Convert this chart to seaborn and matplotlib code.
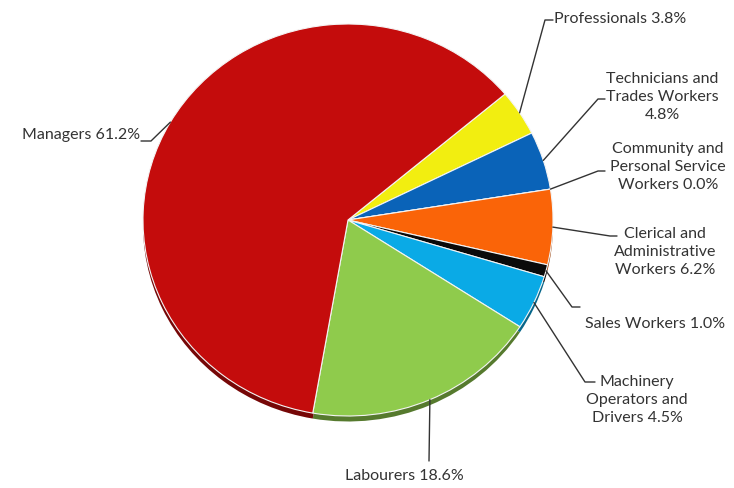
import matplotlib
matplotlib.use("Agg")
import matplotlib.pyplot as plt
import matplotlib.colors as mcolors
import numpy as np
import seaborn as sns

# Occupation shares (%), listed clockwise from the top-right
categories = [
    "Professionals",
    "Technicians and Trades Workers",
    "Community and Personal Service Workers",
    "Clerical and Administrative Workers",
    "Sales Workers",
    "Machinery Operators and Drivers",
    "Labourers",
    "Managers",
]
shares = [3.8, 4.8, 0.0, 6.2, 1.0, 4.5, 18.6, 61.2]

# How each label is broken over lines
label_formats = [
    "Professionals {:.1f}%",
    "Technicians and\nTrades Workers\n{:.1f}%",
    "Community and\nPersonal Service\nWorkers {:.1f}%",
    "Clerical and\nAdministrative\nWorkers {:.1f}%",
    "Sales Workers {:.1f}%",
    "Machinery\nOperators and\nDrivers {:.1f}%",
    "Labourers {:.1f}%",
    "Managers {:.1f}%",
]

colors = ["#F2EE10", "#0A63B8", "#7F7F7F", "#FA6408", "#0A0A0A",
          "#0AAAE6", "#8FCB4C", "#C40C0C"]

# Label placement (pixels from top-left): text anchor, alignment, elbow, tail end
label_layout = [
    dict(xy=(554, 19), ha="left", elbow=(545, 21), tail=(553, 21)),
    dict(xy=(662, 97), ha="center", elbow=(598, 100), tail=(605, 100)),
    dict(xy=(668, 167), ha="center", elbow=(598, 172), tail=(605, 172)),
    dict(xy=(665, 252), ha="center", elbow=(610, 237), tail=(617, 237)),
    dict(xy=(655, 324), ha="center", elbow=(572, 308), tail=(580, 308)),
    dict(xy=(637, 400), ha="center", elbow=(585, 383), tail=(595, 383)),
    dict(xy=(404, 476), ha="center", elbow=(429, 462), tail=(429, 462)),
    dict(xy=(140, 135), ha="right", elbow=(151, 142), tail=(141, 142)),
]

sns.set_theme(style="white")
plt.rcParams["font.family"] = ["Lato", "DejaVu Sans"]

W, H = 734, 489
fig = plt.figure(figsize=(W / 100, H / 100), dpi=100)
ax = fig.add_axes([0, 0, 1, 1])

start = 40
# darker rim giving the pie some depth
rim = [mcolors.to_hex(np.array(mcolors.to_rgb(c)) * 0.6) for c in colors]
ax.pie(shares, colors=rim, startangle=start, counterclock=False,
       center=(0, -0.028), wedgeprops=dict(linewidth=0))
wedges, _ = ax.pie(shares, colors=colors, startangle=start, counterclock=False,
                   wedgeprops=dict(edgecolor="#f4f4f4", linewidth=0.8))

ax.set_aspect("auto")
cx, cy, rx, ry = 348, 221, 205, 196
ax.set_xlim(-cx / rx, (W - cx) / rx)
ax.set_ylim(-(H - cy) / ry, cy / ry)
ax.axis("off")

# overlay in pixel coordinates for the labels and leader lines
ov = fig.add_axes([0, 0, 1, 1], zorder=3)
ov.set_xlim(0, W)
ov.set_ylim(H, 0)
ov.axis("off")
ov.patch.set_alpha(0)

to_ov = ov.transData.inverted()
text_color = "#333333"
for w, fmt, val, lay in zip(wedges, label_formats, shares, label_layout):
    mid = np.deg2rad((w.theta1 + w.theta2) / 2)
    edge = to_ov.transform(ax.transData.transform((np.cos(mid), np.sin(mid))))
    ex, ey = lay["elbow"]
    tx, ty = lay["tail"]
    ov.plot([edge[0], ex, tx], [edge[1], ey, ty], color="#333333", lw=1.0)
    ov.text(lay["xy"][0], lay["xy"][1], fmt.format(val), ha=lay["ha"],
            va="center", multialignment="center", fontsize=11.5,
            color=text_color, linespacing=1.35)

fig.savefig("out.png", dpi=100, facecolor="white")
